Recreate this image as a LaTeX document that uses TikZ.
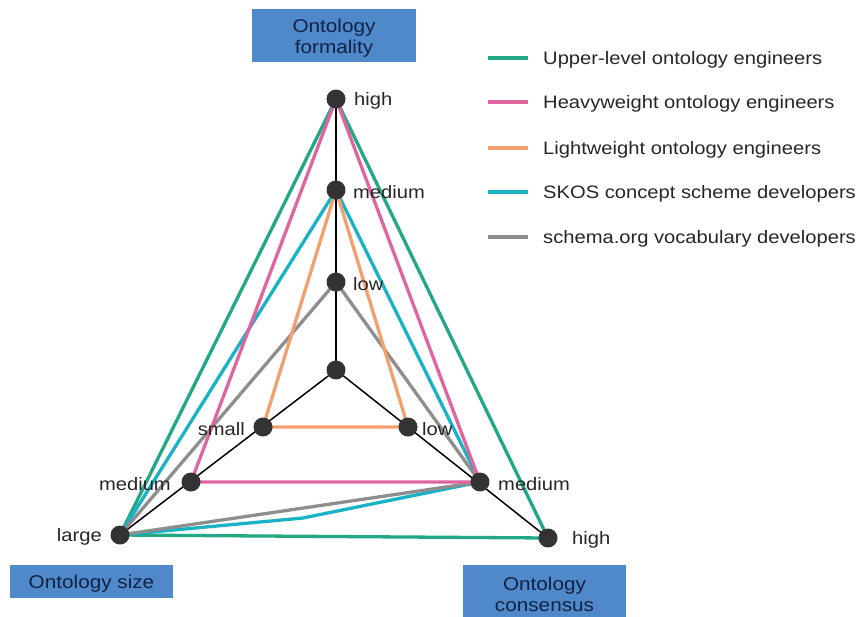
\documentclass[tikz,border=0pt]{standalone}
\usepackage{fontspec}
\setmainfont[FakeStretch=1.12]{Liberation Sans}
\definecolor{upper}{HTML}{22A884}
\definecolor{heavy}{HTML}{E0649F}
\definecolor{light}{HTML}{F4A06E}
\definecolor{skos}{HTML}{19B2C6}
\definecolor{schema}{HTML}{8E8E8E}
\definecolor{boxblue}{HTML}{5089CA}
\definecolor{boxtext}{HTML}{0E2245}
\definecolor{dotfill}{HTML}{333333}
\begin{document}
\begin{tikzpicture}[x=1pt,y=-1pt,
  dot/.style={circle,fill=dotfill,inner sep=0pt,minimum size=19pt},
  lbl/.style={font=\fontsize{18}{21}\selectfont,text=black!85,inner sep=0pt},
  titlebox/.style={fill=boxblue,inner sep=0pt},
  titletext/.style={text=boxtext,align=center,
    font=\fontsize{18.5}{21}\selectfont,inner sep=0pt},
  axisline/.style={line width=1.5pt,black},
  series/.style={line width=3.3pt,line join=round,line cap=round},
  legtext/.style={font=\fontsize{18}{21}\selectfont,text=black!85,anchor=west,inner sep=0pt}]
\useasboundingbox (0,0) rectangle (858,616);

% axis points
\coordinate (C) at (336,370);
\coordinate (F1) at (336,282);
\coordinate (F2) at (336,190);
\coordinate (F3) at (336,99);
\coordinate (S1) at (263,427);
\coordinate (S2) at (191,482);
\coordinate (S3) at (120,535);
\coordinate (N1) at (408,427);
\coordinate (N2) at (480,482);
\coordinate (N3) at (548,538);
\coordinate (bend) at (303,518);

% axes
\draw[axisline] (C) -- (F3);
\draw[axisline] (C) -- (S3);
\draw[axisline] (C) -- (N3);

% series polygons
\draw[series,upper] (F3) -- (S3) -- (N3) -- cycle;
\draw[series,skos] (F2) -- (S3) -- (bend) -- (N2) -- cycle;
\draw[series,schema] (F1) -- (S3) -- (N2) -- cycle;
\draw[series,heavy] (F3) -- (S2) -- (N2) -- cycle;
\draw[series,light] (F2) -- (S1) -- (N1) -- cycle;

% axis markers
\foreach \p in {C,F1,F2,F3,S1,S2,S3,N1,N2,N3}
  \node[dot] (d\p) at (\p) {};

% value labels
\node[lbl,anchor=west] (lF3) at (354,101) {high};
\node[lbl,anchor=west] (lF2) at (353,192) {medium};
\node[lbl,anchor=west] (lF1) at (353,284) {low};
\node[lbl,anchor=east] (lS1) at (245,429) {small};
\node[lbl,anchor=east] (lS2) at (171,484) {medium};
\node[lbl,anchor=east] (lS3) at (102,537) {large};
\node[lbl,anchor=west] (lN1) at (422,429) {low};
\node[lbl,anchor=west] (lN2) at (498,484) {medium};
\node[lbl,anchor=west] (lN3) at (572,540) {high};

% axis titles
\node[titlebox,minimum width=164pt,minimum height=53pt] (bF) at (334,35.5) {};
\node[titletext] (tF) at (334,38.5) {Ontology\\formality};
\node[titlebox,minimum width=163pt,minimum height=33pt] (bS) at (91.5,581.5) {};
\node[titletext] (tS) at (91.5,583.5) {Ontology size};
\node[titlebox,minimum width=163pt,minimum height=52pt] (bN) at (544.5,591) {};
\node[titletext] (tN) at (544.5,594) {Ontology\\consensus};

% legend
\foreach \i/\c/\t/\y in {1/upper/Upper-level ontology engineers/58,
                         2/heavy/Heavyweight ontology engineers/102,
                         3/light/Lightweight ontology engineers/148,
                         4/skos/SKOS concept scheme developers/192,
                         5/schema/schema.org vocabulary developers/237}{
  \coordinate (ka\i) at (488,\y);
  \coordinate (kb\i) at (528,\y);
  \draw[series,\c,line cap=butt] (ka\i) -- (kb\i);
  \node[legtext] (kt\i) at (543,\y+2) {\t};
}
\end{tikzpicture}
\end{document}
